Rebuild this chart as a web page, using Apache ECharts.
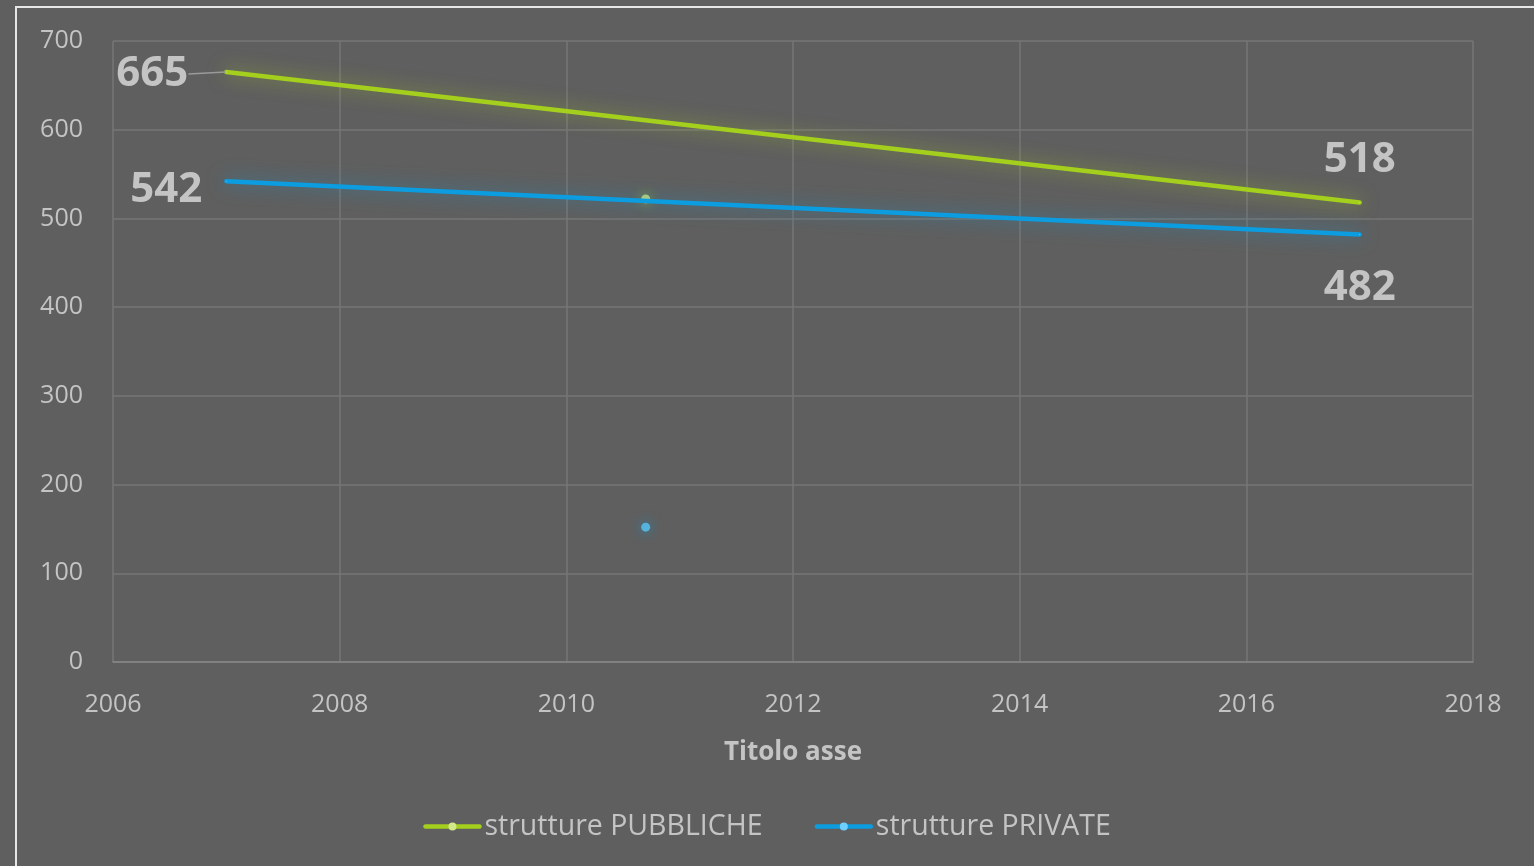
<!DOCTYPE html>
<html><head><meta charset="utf-8">
<script src="https://cdn.jsdelivr.net/npm/echarts@6/dist/echarts.min.js"></script>
<style>html,body{margin:0;padding:0;background:#5f5f5f;}#c{width:1534px;height:866px;}</style>
</head><body><div id="c"></div>
<script>
const years = [2007, 2017];
const pubbliche = [665, 518];
const private_ = [542, 482];
const strayPubX = 2010.7, strayPubY = 522;
const strayPrivX = 2010.7, strayPrivY = 152;
const xTicks = [2006, 2018, 2];
const yTicks = [0, 700, 100];
const seriesNames = ['strutture PUBBLICHE', 'strutture PRIVATE'];
const GREEN = '#a5cf1d', BLUE = '#0b9de0';
const TXT = '#c4c4c4';

const chart = echarts.init(document.getElementById('c'), null, {renderer: 'canvas'});
function pts(xs, ys, leader){
  return xs.map((x,i)=>({value:[x, ys[i]], labelLine:{show: !!(leader && i===0)}}));
}
const labelStyle = {show:true, position:'inside', formatter: p => String(p.value[1]),
  fontFamily:'Open Sans', fontWeight:'bold', fontSize:42, color:TXT};
const pubOffsets = [[-74, 2], [0, -42]];
const privOffsets = [[-60, 9], [0, 54]];

chart.setOption({
  backgroundColor: '#5f5f5f',
  animation: false,
  grid: {left: 113, right: 61, top: 41, bottom: 204},
  graphic: [{type:'polyline', shape:{points:[[16,866],[16,7],[1534,7]]}, style:{stroke:'#e6e6e6', lineWidth:2, fill:null}}],
  legend: {
    data: seriesNames, bottom: 20, left: 'center', itemWidth: 54, itemHeight: 10, itemGap: 52,
    lineStyle: {width: 4.5},
    textStyle: {color: TXT, fontSize: 28.5, fontFamily: 'Open Sans'}
  },
  xAxis: {
    type: 'value', min: xTicks[0], max: xTicks[1], interval: xTicks[2],
    name: 'Titolo asse', nameLocation: 'middle', nameGap: 78,
    nameTextStyle: {color: TXT, fontSize: 26, fontWeight: 'bold', fontFamily: 'Open Sans'},
    axisLine: {show: true, lineStyle: {color: '#878787', width: 1.5}},
    axisTick: {show: false},
    splitLine: {show: true, lineStyle: {color: '#767676', width: 1.5}},
    axisLabel: {color: TXT, fontSize: 25, margin: 30, fontFamily: 'Open Sans', formatter: v => String(v)}
  },
  yAxis: {
    type: 'value', min: yTicks[0], max: yTicks[1], interval: yTicks[2],
    axisLine: {show: false}, axisTick: {show: false},
    splitLine: {show: true, lineStyle: {color: '#767676', width: 1.5}},
    axisLabel: {color: TXT, fontSize: 25, margin: 30, fontFamily: 'Open Sans'}
  },
  series: [
    {name: seriesNames[0], type: 'line', data: pts(years, pubbliche, true), symbol: 'circle', symbolSize: 1, showSymbol: true,
     itemStyle:{color: '#d2ea8a'},
     label: labelStyle,
     labelLayout: p => ({dx: pubOffsets[p.dataIndex][0], dy: pubOffsets[p.dataIndex][1]}),
     labelLine: {show: true, length2: 0, lineStyle: {color: '#9a9a9a', width: 1.5}},
     lineStyle: {color: GREEN, width: 4.5, cap: 'round', shadowColor: 'rgba(165,207,29,0.6)', shadowBlur: 18}, z: 3},
    {name: seriesNames[1], type: 'line', data: pts(years, private_, false), symbol: 'circle', symbolSize: 1, showSymbol: true,
     itemStyle:{color: '#6fd0ff'},
     label: labelStyle,
     labelLayout: p => ({dx: privOffsets[p.dataIndex][0], dy: privOffsets[p.dataIndex][1]}),
     lineStyle: {color: BLUE, width: 4.5, cap: 'round', shadowColor: 'rgba(11,157,224,0.55)', shadowBlur: 18}, z: 4},
    {type: 'scatter', data: [[strayPubX, strayPubY]], symbolSize: 9, z: 2,
     itemStyle: {color: '#c9e58a', shadowColor: 'rgba(165,207,29,0.9)', shadowBlur: 12}},
    {type: 'scatter', data: [[strayPrivX, strayPrivY]], symbolSize: 9, z: 5,
     itemStyle: {color: '#58c6f6', shadowColor: 'rgba(11,157,224,0.9)', shadowBlur: 12}}
  ]
});
</script></body></html>
